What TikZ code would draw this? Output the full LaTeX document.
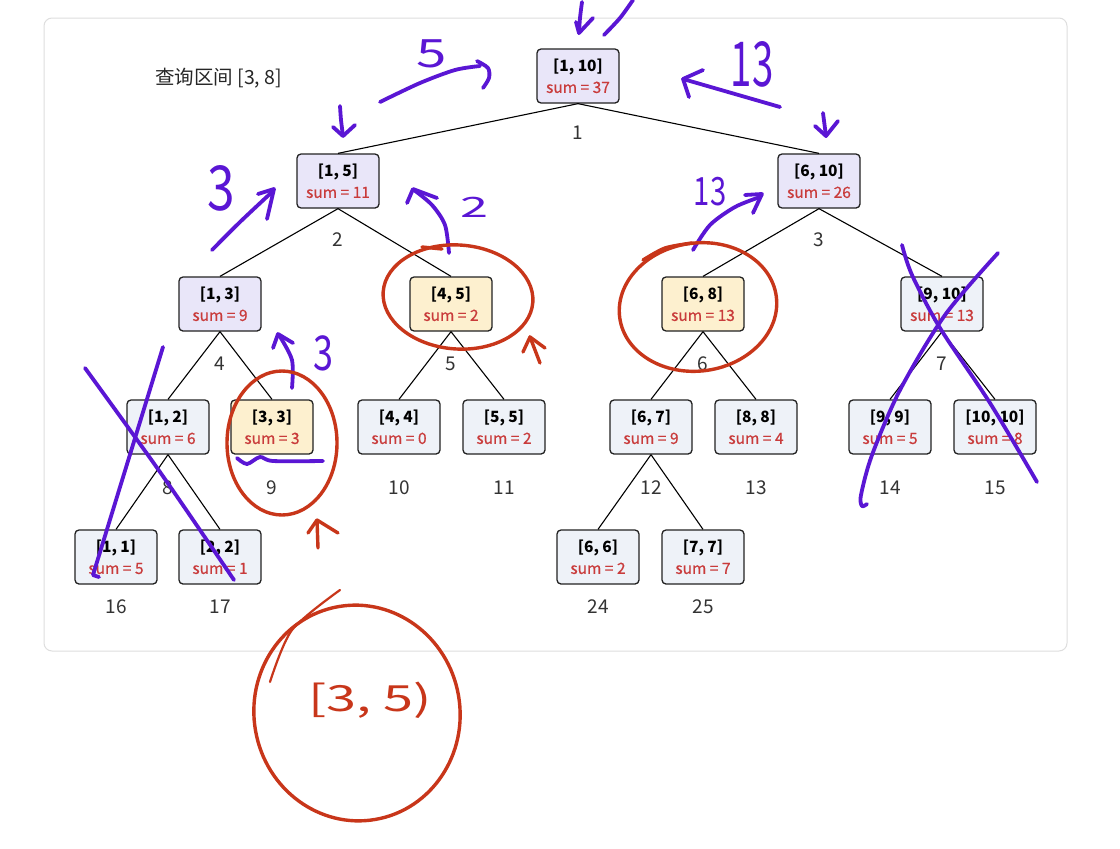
\documentclass[tikz,border=0pt]{standalone}
\usepackage{fontspec}
\usepackage{graphicx}
\setmainfont{Noto Sans CJK SC}
\newfontface\medface{Noto Sans CJK SC}[FakeBold=0.6]
\definecolor{lav}{HTML}{E9E6F9}
\definecolor{yel}{HTML}{FDF0CF}
\definecolor{gry}{HTML}{EEF2F8}
\definecolor{sumred}{HTML}{C93B3B}
\definecolor{nodeborder}{HTML}{222222}
\definecolor{lblgray}{HTML}{333333}
\definecolor{framegray}{HTML}{DEDEDE}
\definecolor{penpurple}{HTML}{5A16D4}
\definecolor{penred}{HTML}{C8361A}
\newcommand{\segnode}[6]{\node[tn, fill=#4] (#1) at (#2,#3) {{\bfseries #5}\\{\medface\color{sumred}sum = #6}};}
\newcommand{\hwtext}[3]{\scalebox{#2}[1]{\fontsize{#1}{#1}\selectfont #3}}
\begin{document}
\begin{tikzpicture}[x=1pt,y=-1pt,
  tn/.style={draw=nodeborder, line width=1.3pt, rounded corners=4pt, minimum width=82pt, minimum height=54pt, inner sep=0pt, align=center, font=\fontsize{15.5}{21.5}\selectfont},
  lbl/.style={font=\fontsize{19}{19}\selectfont, text=lblgray, inner sep=0pt},
  edge/.style={line width=1.1pt, draw=black},
  pp/.style={draw=penpurple, line width=3.8pt, line cap=round, line join=round},
  rp/.style={draw=penred, line width=3.4pt, line cap=round, line join=round},
  pnum/.style={text=penpurple, inner sep=0pt},
  rnum/.style={text=penred, inner sep=0pt}]
\useasboundingbox (0,0) rectangle (1120,849);
\fill[white] (0,0) rectangle (1120,849);
\draw[framegray, line width=1pt, rounded corners=8pt] (44,18) rectangle (1067,651);
\node[anchor=west, font=\fontsize{19.5}{19.5}\selectfont, text=black!85, inner sep=0pt] (title) at (155,78) {查询区间 [3, 8]};
% nodes
\segnode{n1}{578}{76}{lav}{[1, 10]}{37}
\segnode{n2}{338}{181}{lav}{[1, 5]}{11}
\segnode{n3}{819}{181}{lav}{[6, 10]}{26}
\segnode{n4}{220}{304}{lav}{[1, 3]}{9}
\segnode{n5}{451}{304}{yel}{[4, 5]}{2}
\segnode{n6}{703}{304}{yel}{[6, 8]}{13}
\segnode{n7}{942}{304}{gry}{[9, 10]}{13}
\segnode{n8}{168}{427}{gry}{[1, 2]}{6}
\segnode{n9}{272}{427}{yel}{[3, 3]}{3}
\segnode{n10}{399}{427}{gry}{[4, 4]}{0}
\segnode{n11}{504}{427}{gry}{[5, 5]}{2}
\segnode{n12}{651}{427}{gry}{[6, 7]}{9}
\segnode{n13}{756}{427}{gry}{[8, 8]}{4}
\segnode{n14}{890}{427}{gry}{[9, 9]}{5}
\segnode{n15}{995}{427}{gry}{[10, 10]}{8}
\segnode{n16}{116}{557}{gry}{[1, 1]}{5}
\segnode{n17}{220}{557}{gry}{[2, 2]}{1}
\segnode{n24}{598}{557}{gry}{[6, 6]}{2}
\segnode{n25}{703}{557}{gry}{[7, 7]}{7}
% index labels
\node[lbl] (l1) at (578,133) {1};
\node[lbl] (l2) at (338,240) {2};
\node[lbl] (l3) at (819,240) {3};
\node[lbl] (l4) at (220,364) {4};
\node[lbl] (l5) at (451,364) {5};
\node[lbl] (l6) at (703,364) {6};
\node[lbl] (l7) at (942,364) {7};
\node[lbl] (l8) at (168,488) {8};
\node[lbl] (l9) at (272,488) {9};
\node[lbl] (l10) at (399,488) {10};
\node[lbl] (l11) at (504,488) {11};
\node[lbl] (l12) at (651,488) {12};
\node[lbl] (l13) at (756,488) {13};
\node[lbl] (l14) at (890,488) {14};
\node[lbl] (l15) at (995,488) {15};
\node[lbl] (l16) at (116,607) {16};
\node[lbl] (l17) at (220,607) {17};
\node[lbl] (l24) at (598,607) {24};
\node[lbl] (l25) at (703,607) {25};
% edges
\foreach \a/\b in {n1/n2,n1/n3,n2/n4,n2/n5,n3/n6,n3/n7,n4/n8,n4/n9,n5/n10,n5/n11,n6/n12,n6/n13,n7/n14,n7/n15,n8/n16,n8/n17,n12/n24,n12/n25}
  \draw[edge] (\a.south) -- (\b.north);
% ---- purple annotations ----
\draw[pp] plot[smooth] coordinates {(582,2)(580,18)(579,33)};
\draw[pp] (576,22) -- (579,33) -- (593,18);
\draw[pp] plot[smooth] coordinates {(604,35)(620,18)(633,0)};
\node[pnum] (h5) at (432,54) {\hwtext{39}{1.4}{5}};
\draw[pp] plot[smooth] coordinates {(380,102)(420,83)(455,70)(480,66)};
\draw[pp] plot[smooth] coordinates {(477,61)(488,68)(489,78)(483,88)};
\draw[pp] plot[smooth] coordinates {(340,106)(341,120)(343,136)};
\draw[pp] (333,127) -- (343,136) -- (355,125);
\node[pnum] (h13a) at (752,64) {\hwtext{62}{0.62}{13}};
\draw[pp] (780,107) -- (683,79);
\draw[pp] (703,70) -- (683,79) -- (689,97);
\draw[pp] (823,113) -- (826,136);
\draw[pp] (815,126) -- (826,136) -- (838,121);
\node[pnum] (h3a) at (221,188) {\hwtext{62}{0.8}{3}};
\draw[pp] plot[smooth] coordinates {(212,250)(240,222)(272,192)};
\draw[pp] (258,194) -- (274,189) -- (267,219);
\node[pnum] (h2) at (474,207) {\hwtext{28}{1.8}{2}};
\draw[pp] plot[smooth] coordinates {(449,253)(445,225)(432,205)(414,190)};
\draw[pp] (407,203) -- (413,189) -- (437,198);
\node[pnum] (h13b) at (710,192) {\hwtext{39}{0.75}{13}};
\draw[pp] plot[smooth] coordinates {(693,250)(710,225)(735,207)(760,197)};
\draw[pp] (745,195) -- (762,194) -- (753,213);
\node[pnum] (h3b) at (323,353) {\hwtext{48}{0.75}{3}};
\draw[pp] plot[smooth] coordinates {(292,388)(292,360)(279,335)};
\draw[pp] (273,348) -- (278,334) -- (293,343);
\draw[pp] plot[smooth] coordinates {(237,458)(247,464)(260,457)(273,461)(323,461)};
\draw[pp] plot[smooth] coordinates {(85,368)(160,472)(234,580)};
\draw[pp] (163,347) -- (93,575) -- (99,577);
\draw[pp] plot[smooth] coordinates {(902,245)(912,275)(940,328)(990,403)(1037,482)};
\draw[pp] plot[smooth] coordinates {(998,253)(945,315)(900,390)(872,455)(861,495)(862,506)(867,504)};
% ---- red annotations ----
\draw[rp, rotate around={-4:(458,297)}] (458,297) ellipse [x radius=75pt, y radius=52pt];
\draw[rp] (422,247) -- (442,249);
\draw[rp] (523,352) -- (530,337) -- (545,348);
\draw[rp] (530,337) -- (540,363);
\draw[rp] (282,443) ellipse [x radius=55pt, y radius=72pt];
\draw[rp] (308,533) -- (317,520) -- (338,533);
\draw[rp] (317,520) -- (318,548);
\draw[rp, rotate around={8:(698,307)}] (698,307) ellipse [x radius=79pt, y radius=64pt];
\draw[rp] plot[smooth] coordinates {(643,260)(665,248)(692,243)};
\draw[rp, rotate around={10:(357,713)}] (357,713) ellipse [x radius=103pt, y radius=108pt];
\draw[rp, line width=2.2pt] plot[smooth] coordinates {(270,682)(292,630)(340,590)};
\node[rnum] (h35) at (370,700) {\hwtext{36}{1.5}{[3, 5)}};
\end{tikzpicture}
\end{document}
